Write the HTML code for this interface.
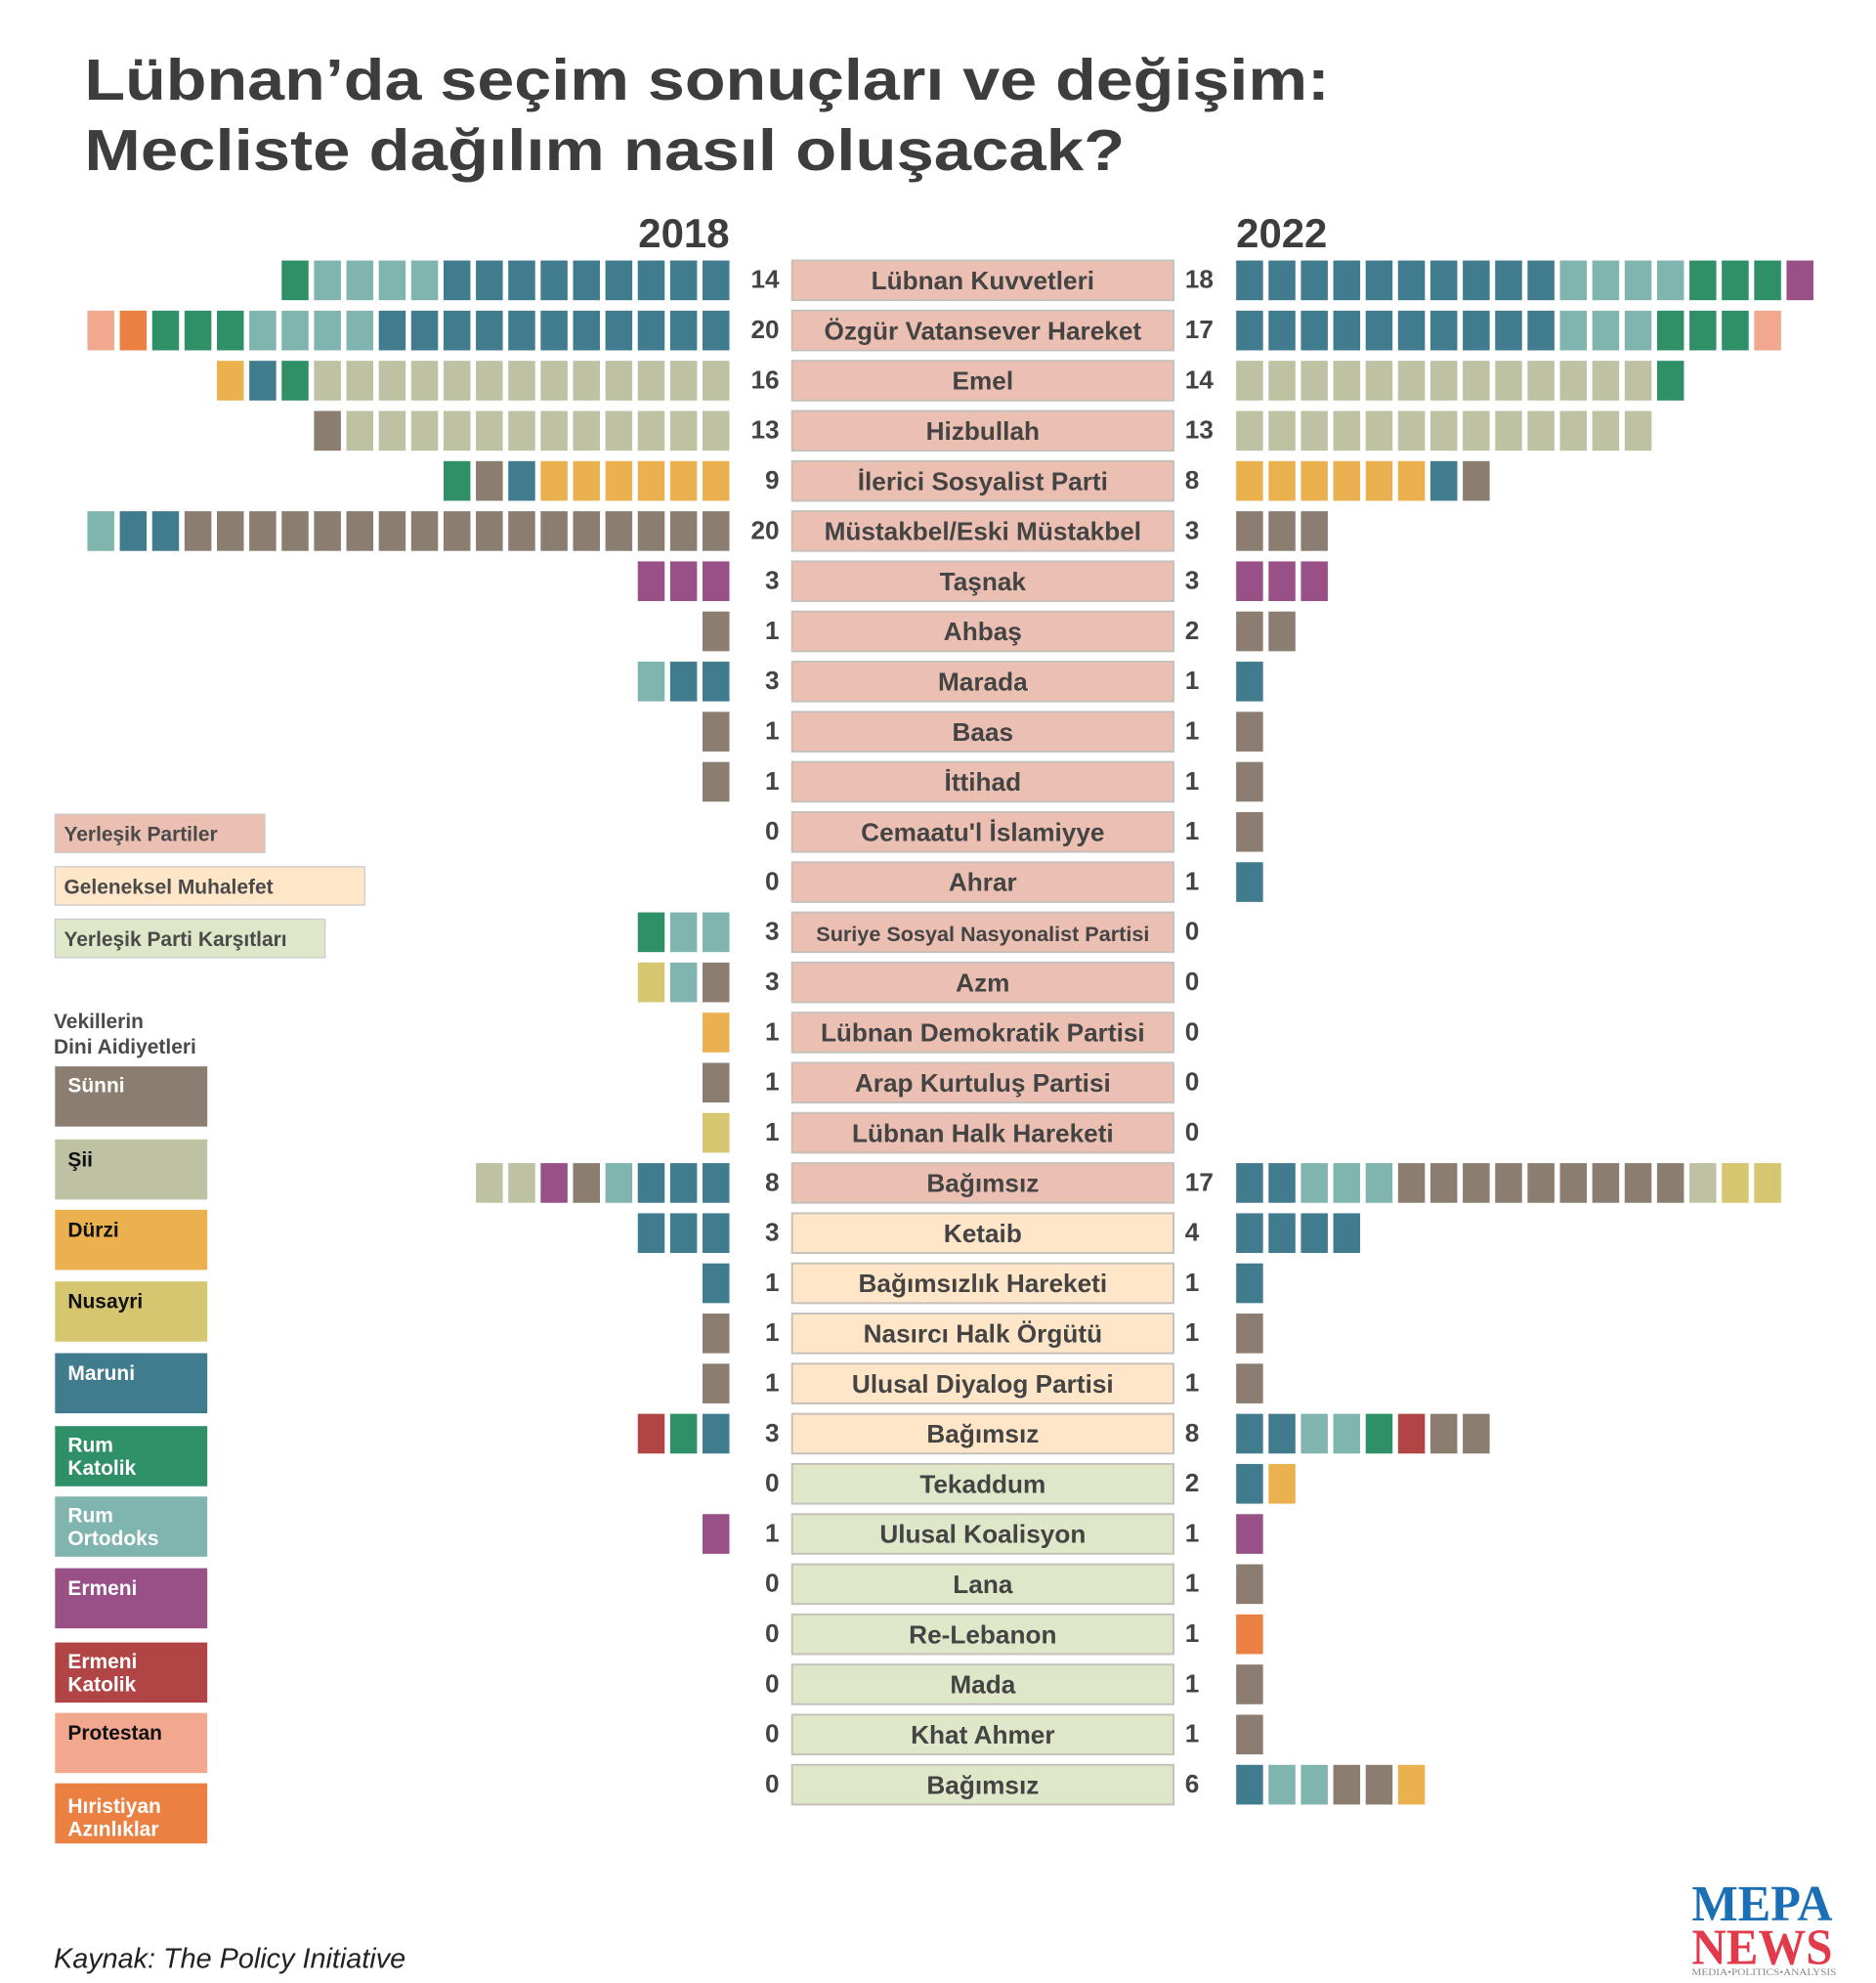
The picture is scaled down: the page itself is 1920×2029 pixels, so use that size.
<!DOCTYPE html>
<html><head><meta charset="utf-8"><style>
html,body{margin:0;padding:0;background:#fff;}
svg{display:block;}
text{font-family:"Liberation Sans",sans-serif;}
</style></head><body>
<svg id="s" xmlns="http://www.w3.org/2000/svg" width="1920" height="2029" viewBox="0 0 1466 1549" preserveAspectRatio="none">
<rect width="1466" height="1549" fill="#fff"/>
<g font-weight="bold" fill="#3d3d3d">
<text x="66" y="78" font-size="45" textLength="973" lengthAdjust="spacingAndGlyphs">Lübnan’da seçim sonuçları ve değişim:</text>
<text x="66" y="133" font-size="45" textLength="813" lengthAdjust="spacingAndGlyphs">Mecliste dağılım nasıl oluşacak?</text>
<text x="570" y="193" font-size="32" text-anchor="end">2018</text>
<text x="966" y="193" font-size="32">2022</text>
</g>
<g id="rows"></g>
<g font-weight="bold" font-size="16" fill="#4a4a4a">
<rect x="43" y="636" width="164" height="30" fill="#EBC0B2" stroke="#ccc"/>
<text x="50" y="657">Yerleşik Partiler</text>
<rect x="43" y="677" width="242" height="30" fill="#FFE6C8" stroke="#ccc"/>
<text x="50" y="698">Geleneksel Muhalefet</text>
<rect x="43" y="718" width="211" height="30" fill="#DEE8C8" stroke="#ccc"/>
<text x="50" y="739">Yerleşik Parti Karşıtları</text>
<text x="42" y="803">Vekillerin</text>
<text x="42" y="823">Dini Aidiyetleri</text>
</g>
<g font-weight="bold" font-size="16">
<rect x="43" y="833" width="119" height="47" fill="#8B7D70"/><text x="53" y="853" fill="#fff">Sünni</text>
<rect x="43" y="890" width="119" height="47" fill="#BEC1A2"/><text x="53" y="911" fill="#111">Şii</text>
<rect x="43" y="945" width="119" height="47" fill="#EBB14F"/><text x="53" y="966" fill="#111">Dürzi</text>
<rect x="43" y="1001" width="119" height="47" fill="#D6C66F"/><text x="53" y="1022" fill="#111">Nusayri</text>
<rect x="43" y="1057" width="119" height="47" fill="#407B8E"/><text x="53" y="1078" fill="#fff">Maruni</text>
<rect x="43" y="1114" width="119" height="47" fill="#2F9068"/><text x="53" y="1134" fill="#fff">Rum</text><text x="53" y="1152" fill="#fff">Katolik</text>
<rect x="43" y="1169" width="119" height="47" fill="#7FB5AE"/><text x="53" y="1189" fill="#fff">Rum</text><text x="53" y="1207" fill="#fff">Ortodoks</text>
<rect x="43" y="1225" width="119" height="47" fill="#985086"/><text x="53" y="1246" fill="#fff">Ermeni</text>
<rect x="43" y="1283" width="119" height="47" fill="#B14545"/><text x="53" y="1303" fill="#fff">Ermeni</text><text x="53" y="1321" fill="#fff">Katolik</text>
<rect x="43" y="1338" width="119" height="47" fill="#F2A88E"/><text x="53" y="1359" fill="#111">Protestan</text>
<rect x="43" y="1393" width="119" height="47" fill="#EB8043"/><text x="53" y="1416" fill="#fff">Hıristiyan</text><text x="53" y="1434" fill="#fff">Azınlıklar</text>
</g>
<text x="42" y="1537" font-size="22" font-style="italic" fill="#222">Kaynak: The Policy Initiative</text>
<text x="1322" y="1500" style="font-family:'Liberation Serif',serif" font-weight="bold" font-size="40" fill="#1a6fb5" textLength="110" lengthAdjust="spacingAndGlyphs">MEPA</text>
<text x="1322" y="1534" style="font-family:'Liberation Serif',serif" font-weight="bold" font-size="40" fill="#e23a4a" textLength="110" lengthAdjust="spacingAndGlyphs">NEWS</text>
<text x="1322" y="1543" style="font-family:'Liberation Serif',serif" font-size="7" fill="#888" textLength="113" lengthAdjust="spacingAndGlyphs">MEDIA•POLITICS•ANALYSIS</text>
</svg>
<script>
var C={S:"#8B7D70",Y:"#BEC1A2",D:"#EBB14F",N:"#D6C66F",M:"#407B8E",G:"#2F9068",R:"#7FB5AE",E:"#985086",K:"#B14545",P:"#F2A88E",H:"#EB8043"};
var PK="#EBC0B2",CR="#FFE6C8",GR="#DEE8C8";
var rows=[
["Lübnan Kuvvetleri",PK,"GRRRRMMMMMMMMM","MMMMMMMMMMRRRRGGGE"],
["Özgür Vatansever Hareket",PK,"PHGGGRRRRMMMMMMMMMMM","MMMMMMMMMMRRRGGGP"],
["Emel",PK,"DMGYYYYYYYYYYYYY","YYYYYYYYYYYYYG"],
["Hizbullah",PK,"SYYYYYYYYYYYY","YYYYYYYYYYYYY"],
["İlerici Sosyalist Parti",PK,"GSMDDDDDD","DDDDDDMS"],
["Müstakbel/Eski Müstakbel",PK,"RMMSSSSSSSSSSSSSSSSS","SSS"],
["Taşnak",PK,"EEE","EEE"],
["Ahbaş",PK,"S","SS"],
["Marada",PK,"RMM","M"],
["Baas",PK,"S","S"],
["İttihad",PK,"S","S"],
["Cemaatu'l İslamiyye",PK,"","S"],
["Ahrar",PK,"","M"],
["Suriye Sosyal Nasyonalist Partisi",PK,"GRR",""],
["Azm",PK,"NRS",""],
["Lübnan Demokratik Partisi",PK,"D",""],
["Arap Kurtuluş Partisi",PK,"S",""],
["Lübnan Halk Hareketi",PK,"N",""],
["Bağımsız",PK,"YYESRMMM","MMRRRSSSSSSSSSYNN"],
["Ketaib",CR,"MMM","MMMM"],
["Bağımsızlık Hareketi",CR,"M","M"],
["Nasırcı Halk Örgütü",CR,"S","S"],
["Ulusal Diyalog Partisi",CR,"S","S"],
["Bağımsız",CR,"KGM","MMRRGKSS"],
["Tekaddum",GR,"","MD"],
["Ulusal Koalisyon",GR,"E","E"],
["Lana",GR,"","S"],
["Re-Lebanon",GR,"","H"],
["Mada",GR,"","S"],
["Khat Ahmer",GR,"","S"],
["Bağımsız",GR,"","MRRSSD"]];
var g=document.getElementById("rows"),h="";
rows.forEach(function(r,i){
 var cy=219+i*39.17,y=cy-15.5;
 h+='<rect x="619" y="'+y+'" width="298" height="31" fill="'+r[1]+'" stroke="#c6c0ba" stroke-width="1.5"/>';
 var fs=r[0].length>28?16.5:20;
 h+='<text x="768" y="'+(cy+7)+'" font-size="'+fs+'" font-weight="bold" fill="#444" text-anchor="middle">'+r[0]+'</text>';
 h+='<text x="609" y="'+(cy+6)+'" font-size="20" font-weight="bold" fill="#444" text-anchor="end">'+r[2].length+'</text>';
 h+='<text x="926" y="'+(cy+6)+'" font-size="20" font-weight="bold" fill="#444">'+r[3].length+'</text>';
 var L=r[2];for(var k=0;k<L.length;k++){var x=549-(L.length-1-k)*25.3;h+='<rect x="'+x+'" y="'+y+'" width="21" height="31" fill="'+C[L[k]]+'"/>';}
 var R=r[3];for(var k=0;k<R.length;k++){var x=966+k*25.3;h+='<rect x="'+x+'" y="'+y+'" width="21" height="31" fill="'+C[R[k]]+'"/>';}
});
g.innerHTML=h;
</script>
</body></html>
